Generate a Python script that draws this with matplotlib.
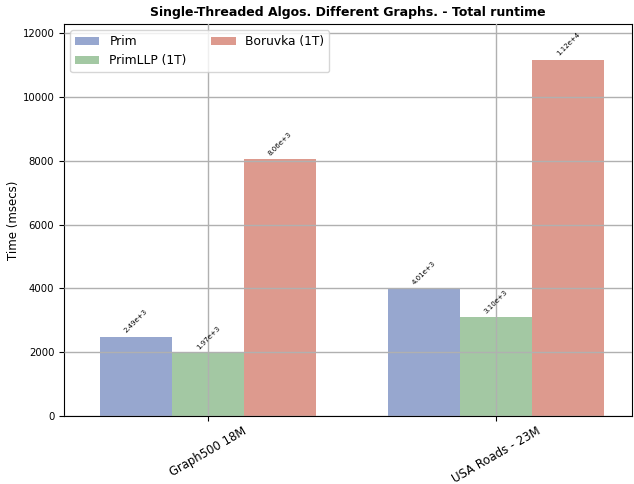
import numpy as np
import matplotlib.pyplot as plt

graphs = ['Graph500 18M', 'USA Roads - 23M']
algos = ['Prim', 'PrimLLP (1T)', 'Boruvka (1T)']
prim = [2490, 4010]
primllp = [1970, 3100]
boruvka = [8060, 11170]
cores = ['#97a7cf', '#a3c8a3', '#dd9a8e']

def main():
    fig = plt.figure(figsize=(6.34, 4.84), dpi=100)
    ax = fig.add_axes([0.101, 0.1405, 0.896, 0.8095])

    x = np.arange(len(graphs))
    largura = 0.25
    series = [prim, primllp, boruvka]
    for i, (nome, vals) in enumerate(zip(algos, series)):
        pos = x + (i - 1) * largura
        ax.bar(pos, vals, largura, label=nome, color=cores[i])
        for p, v in zip(pos, vals):
            ax.annotate(f'{v:.2e}'.replace('e+0', 'e+'), (p, v), xytext=(0, 2),
                        textcoords='offset points', ha='center', va='bottom',
                        rotation=45, fontsize=5)

    ax.set_xticks(x)
    ax.set_xticklabels(graphs, rotation=30, fontsize=8.4)
    ax.tick_params(axis='x', pad=2.5)
    ax.set_xlim(-0.5, 1.472)
    ax.set_ylim(0, max(boruvka) * 1.1)
    ax.tick_params(axis='y', labelsize=7.3)
    ax.set_ylabel('Time (msecs)', fontsize=8.5, labelpad=2)
    ax.set_title('Single-Threaded Algos. Different Graphs. - Total runtime',
                 fontsize=9, fontweight='bold')
    ax.grid(True, color='#b0b0b0', linewidth=1)
    ax.set_axisbelow(False)
    ax.legend(loc='upper left', ncol=2, fontsize=8.8)

    fig.savefig('out.png', dpi=100)

if __name__ == "__main__":
    main()
